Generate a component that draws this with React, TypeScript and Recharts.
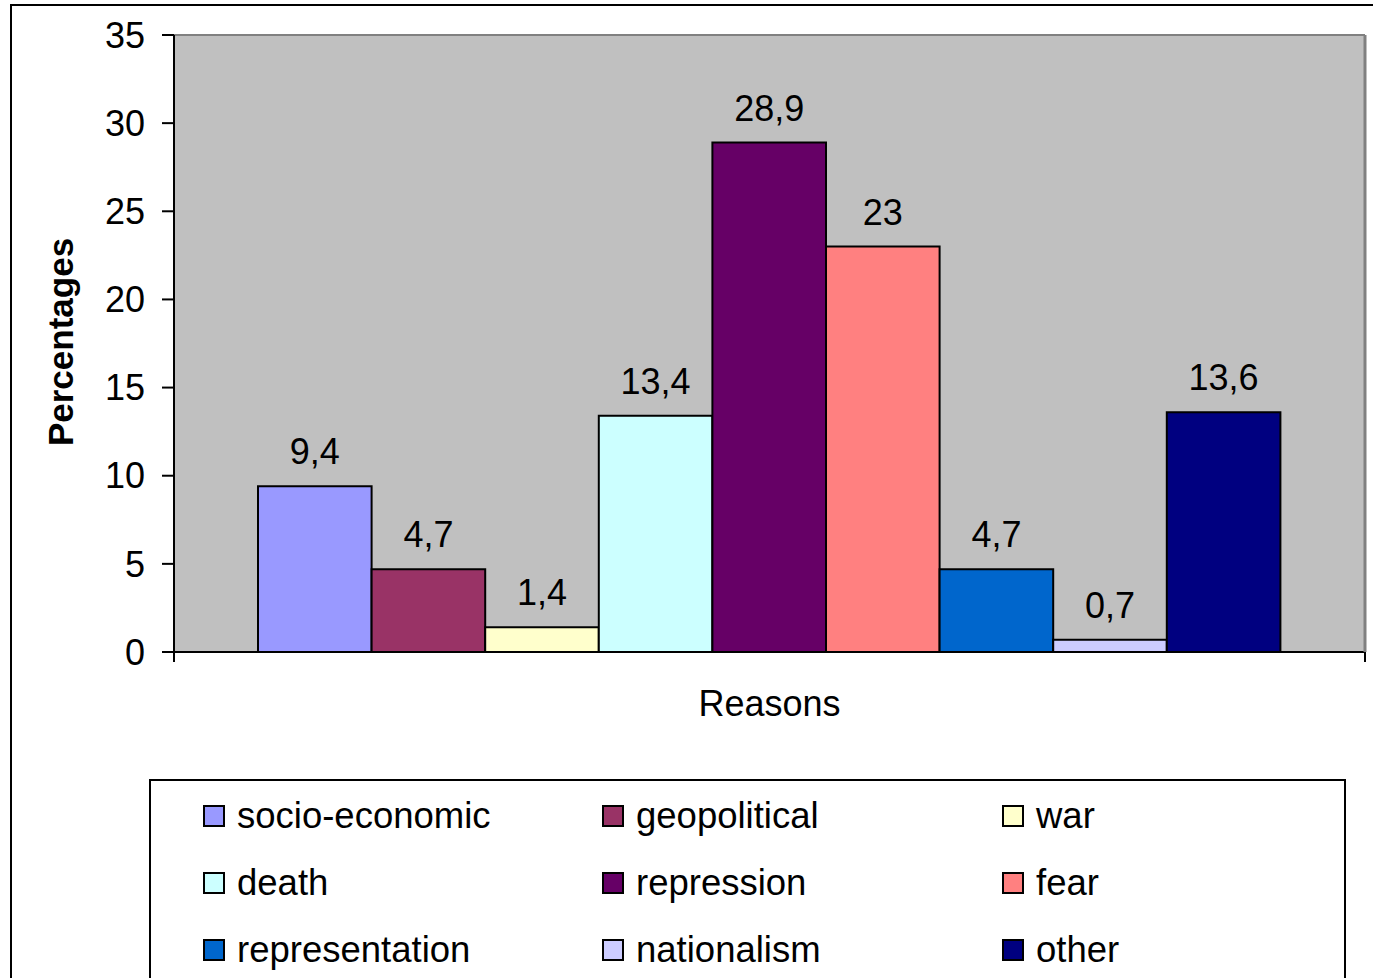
import { BarChart, Bar, XAxis, YAxis, CartesianGrid, ReferenceLine, LabelList, Legend } from "recharts";

const reasons = [
  "socio-economic", "geopolitical", "war",
  "death", "repression", "fear",
  "representation", "nationalism", "other",
];
const percentages = [9.4, 4.7, 1.4, 13.4, 28.9, 23, 4.7, 0.7, 13.6];
const colors = [
  "#9999FF", "#993366", "#FFFFCC",
  "#CCFFFF", "#660066", "#FF8080",
  "#0066CC", "#CCCCFF", "#000080",
];
const yTicks = [0, 5, 10, 15, 20, 25, 30, 35];

const FONT = '"Liberation Sans", Arial, sans-serif';
const FS = 36;

// single category row, one column per reason
const row: Record<string, any> = { name: "Reasons" };
reasons.forEach((r, i) => { row[r] = percentages[i]; });
const data = [row];

const fmt = (v: any) => String(v).replace(".", ",");

const renderLegend = (props: any) => {
  // keep series order (legend sorts by name otherwise)
  const items = [...(props.payload || [])].sort(
    (a: any, b: any) => reasons.indexOf(a.value) - reasons.indexOf(b.value)
  );
  return (
    <div
      style={{
        boxSizing: "border-box",
        width: 1197,
        height: 260,
        border: "2px solid #000",
        background: "#fff",
        padding: "22px 0 0 52px",
        display: "grid",
        gridTemplateColumns: "399px 400px 300px",
        gridAutoRows: "67px",
        fontFamily: FONT,
        fontSize: 36.5,
        color: "#000",
      }}
    >
      {items.map((it: any) => (
        <div key={it.value} style={{ display: "flex", alignItems: "center", height: 26, lineHeight: "26px" }}>
          <span
            style={{
              boxSizing: "border-box",
              width: 22,
              height: 22,
              border: "2px solid #000",
              background: it.color,
              marginRight: 12,
              flex: "none",
            }}
          />
          <span>{it.value}</span>
        </div>
      ))}
    </div>
  );
};

const App = () => {
  return (
    <div style={{ position: "absolute", left: 0, top: 0, width: 1373, height: 978, overflow: "hidden", background: "#fff" }}>
      {/* outer chart border */}
      <div style={{ position: "absolute", left: 10, top: 4, width: 1420, height: 1040, border: "2px solid #000" }} />
      <div style={{ position: "absolute", left: 0, top: 0 }}>
        <BarChart
          width={1373}
          height={978}
          data={data}
          margin={{ top: 35, right: 0, bottom: 256, left: 114 }}
          barSize={113.6}
          barGap={0}
          style={{ fontFamily: FONT }}
        >
          <CartesianGrid fill="#C0C0C0" horizontal={false} vertical={false} />
          <ReferenceLine y={35} stroke="#808080" strokeWidth={2} />
          <XAxis
            dataKey="name"
            height={70}
            tick={false}
            tickLine={false}
            axisLine={{ stroke: "#000", strokeWidth: 2 }}
            label={{ value: "Reasons", position: "insideBottom", offset: 6, fill: "#000", fontSize: FS, fontFamily: FONT }}
          />
          <YAxis
            width={60}
            domain={[0, 35]}
            ticks={yTicks}
            interval={0}
            tickSize={12}
            tickMargin={17}
            tick={{ fill: "#000", fontSize: FS, fontFamily: FONT }}
            tickLine={{ stroke: "#000", strokeWidth: 2 }}
            axisLine={{ stroke: "#000", strokeWidth: 2 }}
            label={{
              content: () => (
                <text
                  transform="translate(73,342) rotate(-90)"
                  textAnchor="middle"
                  fill="#000"
                  fontSize={35}
                  fontWeight="bold"
                  fontFamily={FONT}
                >
                  Percentages
                </text>
              ),
            }}
          />
          <YAxis
            yAxisId="r"
            orientation="right"
            width={8}
            domain={[0, 35]}
            tick={false}
            tickLine={false}
            axisLine={{ stroke: "#808080", strokeWidth: 3 }}
          />
          <Legend
            layout="horizontal"
            verticalAlign="middle"
            align="center"
            content={renderLegend}
            wrapperStyle={{ left: 149, top: 779, width: 1197, height: 260 }}
          />
          {reasons.map((r, i) => (
            <Bar key={r} dataKey={r} fill={colors[i]} stroke="#000" strokeWidth={2} isAnimationActive={false}>
              <LabelList dataKey={r} position="top" offset={22} fill="#000" fontSize={FS} fontFamily={FONT} formatter={fmt} />
            </Bar>
          ))}
        </BarChart>
      </div>
      {/* category boundary ticks on the x axis */}
      <svg style={{ position: "absolute", left: 0, top: 0, pointerEvents: "none" }} width={1373} height={978}>
        <line x1={174} y1={652} x2={174} y2={662} stroke="#000" strokeWidth={2} />
        <line x1={1365} y1={652} x2={1365} y2={662} stroke="#000" strokeWidth={2} />
      </svg>
    </div>
  );
};

export default App;
